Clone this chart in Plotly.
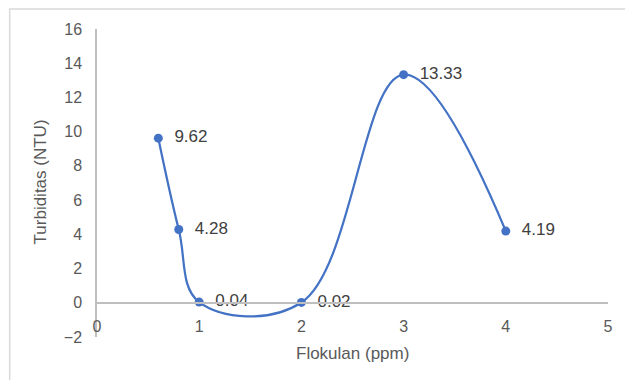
import plotly.graph_objects as go

x_vals = [0.6, 0.8, 1, 2, 3, 4]
y_vals = [9.62, 4.28, 0.04, 0.02, 13.33, 4.19]
labels = ["9.62", "4.28", "0.04", "0.02", "13.33", "4.19"]
x_ticks = [0, 1, 2, 3, 4, 5]
y_ticks = [-2, 0, 2, 4, 6, 8, 10, 12, 14, 16]

W, H = 625, 380
L, R, T, B = 97, 13, 29, 43
pw, ph = W - L - R, H - T - B

FONT = "Liberation Sans"
BLUE = "#4472C4"

fig = go.Figure()
fig.add_trace(go.Scatter(
    x=x_vals, y=y_vals, mode="lines+markers+text",
    line=dict(color=BLUE, width=2.25, shape="spline", smoothing=1.1),
    marker=dict(color=BLUE, size=9),
    text=["  " + t for t in labels], textposition="middle right",
    textfont=dict(family=FONT, size=17, color="#404040"),
    cliponaxis=False, showlegend=False,
))

fig.update_layout(
    width=W, height=H,
    margin=dict(l=L, r=R, t=T, b=B),
    paper_bgcolor="white", plot_bgcolor="white",
    font=dict(family=FONT, color="#595959", size=16),
    xaxis=dict(range=[0, 5], tickvals=x_ticks, showgrid=False, zeroline=False,
               showline=True, linecolor="#BFBFBF", linewidth=1.5,
               anchor="free", position=2 / 18, ticks="",
               ticklabelstandoff=9,
               tickfont=dict(size=16, color="#595959")),
    yaxis=dict(range=[-2, 16], tickvals=y_ticks, showgrid=False, zeroline=False,
               showline=True, linecolor="#BFBFBF", linewidth=1.5, ticks="",
               ticklabelstandoff=10,
               tickfont=dict(size=16, color="#595959")),
    annotations=[
        dict(text="Flokulan (ppm)", xref="paper", yref="paper",
             x=(355 - L) / pw, y=(H - B - 353) / ph, showarrow=False,
             font=dict(size=17, color="#595959"), xanchor="center", yanchor="middle"),
        dict(text="Turbiditas (NTU)", xref="paper", yref="paper",
             x=(40 - L) / pw, y=(H - B - 182) / ph, showarrow=False, textangle=-90,
             font=dict(size=17, color="#595959"), xanchor="center", yanchor="middle"),
    ],
    shapes=[
        dict(type="rect", xref="paper", yref="paper", layer="below",
             x0=(9 - L) / pw, x1=(640 - L) / pw,
             y0=(H - B - 395) / ph, y1=(H - B - 9) / ph,
             line=dict(color="#D9D9D9", width=1.5), fillcolor="rgba(0,0,0,0)"),
    ],
)

fig.write_html("out.html")
